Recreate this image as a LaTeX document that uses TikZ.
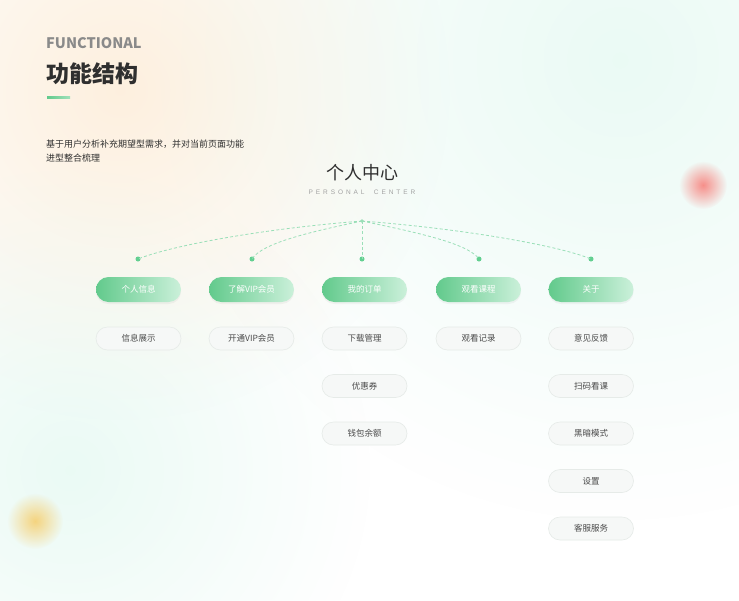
\documentclass[tikz,border=0pt]{standalone}
\usepackage{fontspec}
\setmainfont{Noto Sans CJK SC}
\newfontfamily\spacedfont{Liberation Sans}[LetterSpace=45,WordSpace=2]
\usetikzlibrary{fadings,shadows}
\definecolor{titlecol}{HTML}{2F2F2F}
\definecolor{subcol}{HTML}{8A8A8A}
\definecolor{gA}{HTML}{62CA8C}
\definecolor{gB}{HTML}{CBF0DA}
\definecolor{dotcol}{HTML}{62CF90}
\definecolor{dashcol}{HTML}{9ADFB8}
\definecolor{pillfill}{HTML}{F6F8F7}
\definecolor{pillline}{HTML}{E6EBE8}
\definecolor{pilltext}{HTML}{4A4A4A}
\definecolor{peach}{HTML}{FDEEDB}
\definecolor{mint}{HTML}{DDF7EE}
\definecolor{blobred}{HTML}{F7837E}
\definecolor{blobyel}{HTML}{F6CD6A}
\tikzfading[name=blobfade, inner color=transparent!0, outer color=transparent!100]
\tikzset{
  lvlone/.style={draw=none, rounded corners=12.5pt, minimum width=85pt, minimum height=25pt,
    left color=gA, right color=gB, text=white, inner sep=0pt,
    font=\fontsize{8.5}{10}\selectfont,
    drop shadow={opacity=0.08, shadow xshift=0pt, shadow yshift=-2pt}},
  lvltwo/.style={draw=pillline, line width=0.6pt, rounded corners=11.5pt, minimum width=85pt,
    minimum height=23pt, fill=pillfill, text=pilltext, inner sep=0pt,
    font=\fontsize{8.5}{10}\selectfont},
  dotnode/.style={circle, fill=dotcol, inner sep=0pt, minimum size=5pt},
  dashline/.style={draw=dashcol, line width=0.8pt, dash pattern=on 3pt off 2.2pt},
  blob/.style={path fading=blobfade}
}
\begin{document}
\begin{tikzpicture}[x=1pt,y=-1pt]
\useasboundingbox (0,0) rectangle (739,600);
\fill[white] (0,0) rectangle (739,600);
% background blobs
\begin{scope}
\clip (0,0) rectangle (739,600);
\fill[peach, blob, opacity=0.9] (120,90) circle (330);
\fill[mint, blob, opacity=0.6] (620,60) circle (460);
\fill[mint, blob, opacity=0.6] (70,470) circle (300);
\fill[blobred, blob, opacity=0.9] (703,185) circle (24);
\fill[blobyel, blob, opacity=0.85] (35,521) circle (28);
\end{scope}
% header
\node[anchor=west, inner sep=0pt, text=subcol, font=\fontsize{14.5}{16}\selectfont\bfseries] (functional) at (46,43) {FUNCTIONAL};
\node[anchor=west, inner sep=0pt, text=titlecol, font=\fontsize{23}{25}\selectfont\bfseries] (title) at (46,74) {功能结构};
\shade[left color=gA, right color=gB!60!gA] (47,96) rectangle (70,98.5);
\node[anchor=west, inner sep=0pt, text=titlecol, font=\fontsize{9}{11}\selectfont] (para1) at (46,144) {基于用户分析补充期望型需求，并对当前页面功能};
\node[anchor=west, inner sep=0pt, text=titlecol, font=\fontsize{9}{11}\selectfont] (para2) at (46,158) {进型整合梳理};
% center title
\node[inner sep=0pt, text=titlecol, font=\fontsize{18}{20}\selectfont] (center) at (362,173) {个人中心};
\node[inner sep=0pt, text=subcol!80, font=\fontsize{6.5}{8}\spacedfont] (centeren) at (362,192) {PERSONAL CENTER};
% hub and dots
\coordinate (hub) at (362,221);
\node[dotnode] (d1) at (138,259) {};
\node[dotnode] (d2) at (252,259) {};
\node[dotnode] (d3) at (362,259) {};
\node[dotnode] (d4) at (479,259) {};
\node[dotnode] (d5) at (591,259) {};
\draw[dashline] (hub) .. controls (260,229) and (170,246) .. (d1.center);
\draw[dashline] (hub) .. controls (310,232) and (262,243) .. (d2.center);
\draw[dashline] (hub) -- (d3.center);
\draw[dashline] (hub) .. controls (414,232) and (468,243) .. (d4.center);
\draw[dashline] (hub) .. controls (466,229) and (560,246) .. (d5.center);
\fill[dashcol] (hub) circle (1.8);
% level one
\node[lvlone] (a1) at (138.5,289.5) {个人信息};
\node[lvlone] (a2) at (251.5,289.5) {了解VIP会员};
\node[lvlone] (a3) at (364.5,289.5) {我的订单};
\node[lvlone] (a4) at (478.5,289.5) {观看课程};
\node[lvlone] (a5) at (591,289.5) {关于};
% level two
\node[lvltwo] (b11) at (138.5,338.5) {信息展示};
\node[lvltwo] (b21) at (251.5,338.5) {开通VIP会员};
\node[lvltwo] (b31) at (364.5,338.5) {下载管理};
\node[lvltwo] (b32) at (364.5,386) {优惠券};
\node[lvltwo] (b33) at (364.5,433.5) {钱包余额};
\node[lvltwo] (b41) at (478.5,338.5) {观看记录};
\node[lvltwo] (b51) at (591,338.5) {意见反馈};
\node[lvltwo] (b52) at (591,386) {扫码看课};
\node[lvltwo] (b53) at (591,433.5) {黑暗模式};
\node[lvltwo] (b54) at (591,481) {设置};
\node[lvltwo] (b55) at (591,528.5) {客服服务};
\end{tikzpicture}
\end{document}
